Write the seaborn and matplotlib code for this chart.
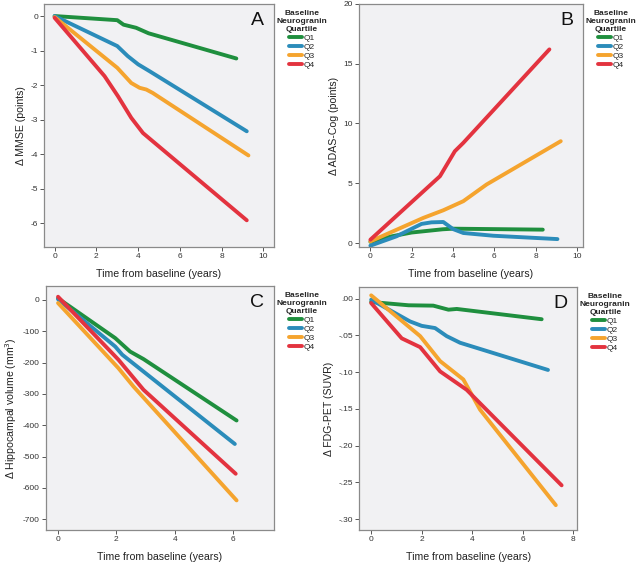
import matplotlib
matplotlib.use("Agg")
import matplotlib.pyplot as plt
import seaborn as sns
import pandas as pd

sns.set_style("ticks")
plt.rcParams["font.family"] = ["Liberation Sans", "DejaVu Sans"]

quartiles = ["Q1", "Q2", "Q3", "Q4"]
colors = ["#1f8f3e", "#2b8cba", "#f5a42e", "#e3333f"]

# Panel A: change in MMSE
mmse_x = {
    "Q1": [0, 3.0, 3.3, 3.9, 4.5, 8.7],
    "Q2": [0, 3.0, 3.5, 4.0, 4.55, 9.2],
    "Q3": [0, 3.0, 3.67, 4.07, 4.39, 4.7, 9.28],
    "Q4": [0, 2.39, 3.03, 3.67, 4.23, 4.7, 9.2],
}
mmse_y = {
    "Q1": [0, -0.12, -0.25, -0.34, -0.5, -1.23],
    "Q2": [0, -0.87, -1.16, -1.40, -1.6, -3.34],
    "Q3": [-0.03, -1.5, -1.94, -2.08, -2.13, -2.23, -4.04],
    "Q4": [-0.05, -1.74, -2.32, -2.95, -3.39, -3.63, -5.92],
}

# Panel B: change in ADAS-Cog
adas_x = {
    "Q1": [0, 1.0, 2.0, 3.5, 4.0, 8.35],
    "Q2": [0, 1.26, 2.48, 2.96, 3.53, 4.0, 4.5, 5.95, 9.06],
    "Q3": [0, 2.56, 3.53, 4.5, 5.63, 9.22],
    "Q4": [0, 3.37, 4.09, 4.5, 8.67],
}
adas_y = {
    "Q1": [0.1, 0.55, 0.88, 1.15, 1.2, 1.12],
    "Q2": [-0.22, 0.56, 1.6, 1.73, 1.76, 1.17, 0.84, 0.61, 0.33],
    "Q3": [0.14, 2.1, 2.74, 3.5, 4.9, 8.52],
    "Q4": [0.28, 5.59, 7.68, 8.38, 16.2],
}

# Panel C: change in hippocampal volume
hip_x = {
    "Q1": [0, 1.96, 2.47, 2.93, 6.12],
    "Q2": [0, 1.96, 2.2, 6.06],
    "Q3": [0, 2.07, 2.59, 6.12],
    "Q4": [0, 2.07, 2.93, 6.09],
}
hip_y = {
    "Q1": [5, -122, -165, -189, -385],
    "Q2": [2, -149, -175, -460],
    "Q3": [-10, -218, -277, -640],
    "Q4": [10, -191, -287, -555],
}

# Panel D: change in FDG-PET
fdg_x = {
    "Q1": [0, 1.48, 2.46, 3.06, 3.39, 6.75],
    "Q2": [0, 1.54, 2.0, 2.53, 2.99, 3.52, 7.0],
    "Q3": [0, 1.94, 2.73, 3.65, 4.31, 7.31],
    "Q4": [0, 1.21, 1.94, 2.73, 3.78, 7.54],
}
fdg_y = {
    "Q1": [-0.0045, -0.009, -0.0095, -0.015, -0.014, -0.028],
    "Q2": [-0.0014, -0.031, -0.037, -0.040, -0.051, -0.060, -0.097],
    "Q3": [0.0045, -0.051, -0.085, -0.110, -0.151, -0.281],
    "Q4": [-0.006, -0.054, -0.066, -0.099, -0.124, -0.254],
}


def to_frame(xs, ys):
    rows = []
    for q in quartiles:
        for x, y in zip(xs[q], ys[q]):
            rows.append({"time": x, "value": y, "quartile": q})
    return pd.DataFrame(rows)


panels = [
    dict(xs=mmse_x, ys=mmse_y, pos=[0.069, 0.564, 0.359, 0.429], letter="A",
         ylabel="Δ MMSE (points)", xlim=(-0.5, 10.5), ylim=(-6.7, 0.35),
         xticks=[0, 2, 4, 6, 8, 10], yticks=[0, -1, -2, -3, -4, -5, -6],
         yfmt=lambda v: f"{v:g}"),
    dict(xs=adas_x, ys=adas_y, pos=[0.561, 0.564, 0.350, 0.429], letter="B",
         ylabel="Δ ADAS-Cog (points)", xlim=(-0.55, 10.3), ylim=(-0.35, 20),
         xticks=[0, 2, 4, 6, 8, 10], yticks=[0, 5, 10, 15, 20],
         yfmt=lambda v: f"{v:g}"),
    dict(xs=hip_x, ys=hip_y, pos=[0.072, 0.065, 0.356, 0.431], letter="C",
         ylabel="Δ Hippocampal volume (mm$^3$)", xlim=(-0.41, 7.4), ylim=(-735, 45),
         xticks=[0, 2, 4, 6], yticks=[0, -100, -200, -300, -400, -500, -600, -700],
         yfmt=lambda v: f"{v:g}"),
    dict(xs=fdg_x, ys=fdg_y, pos=[0.561, 0.065, 0.341, 0.429], letter="D",
         ylabel="Δ FDG-PET (SUVR)", xlim=(-0.48, 8.16), ylim=(-0.315, 0.016),
         xticks=[0, 2, 4, 6, 8], yticks=[0, -0.05, -0.10, -0.15, -0.20, -0.25, -0.30],
         yfmt=lambda v: ("-" if v < 0 else "") + f"{abs(v):.2f}".lstrip("0")),
]

fig = plt.figure(figsize=(6.4, 5.67), dpi=100)

for p in panels:
    ax = fig.add_axes(p["pos"])
    ax.set_facecolor("#f1f1f3")
    df = to_frame(p["xs"], p["ys"])
    sns.lineplot(data=df, x="time", y="value", hue="quartile", hue_order=quartiles,
                 palette=colors, linewidth=2.8, sort=False, estimator=None, ax=ax,
                 solid_capstyle="round")
    ax.set_xlim(*p["xlim"])
    ax.set_ylim(*p["ylim"])
    ax.set_xticks(p["xticks"])
    ax.set_yticks(p["yticks"])
    ax.set_yticklabels([p["yfmt"](v) for v in p["yticks"]])
    ax.tick_params(labelsize=6, length=3, width=0.7, color="#555555", labelcolor="#333333", pad=1.5)
    for s in ax.spines.values():
        s.set_color("#8a8a8a")
        s.set_linewidth(0.9)
    ax.set_xlabel("Time from baseline (years)", fontsize=7.6, color="#222222", labelpad=6)
    ax.set_ylabel(p["ylabel"], fontsize=7.6, color="#222222", labelpad=3)
    ax.text(0.955, 0.965, p["letter"], transform=ax.transAxes, ha="right", va="top",
            fontsize=14, color="#111111")
    leg = ax.legend(title="Baseline\nNeurogranin\nQuartile", loc="upper left",
                    bbox_to_anchor=(0.985, 1.0), frameon=False, fontsize=6,
                    handlelength=1.6, handletextpad=0.2, labelspacing=0.15,
                    borderaxespad=0.3)
    leg.get_title().set_fontsize(6)
    leg.get_title().set_fontweight("bold")
    leg.get_title().set_multialignment("center")
    leg._legend_box.align = "center"

fig.savefig("out.png", dpi=100, facecolor="white")
